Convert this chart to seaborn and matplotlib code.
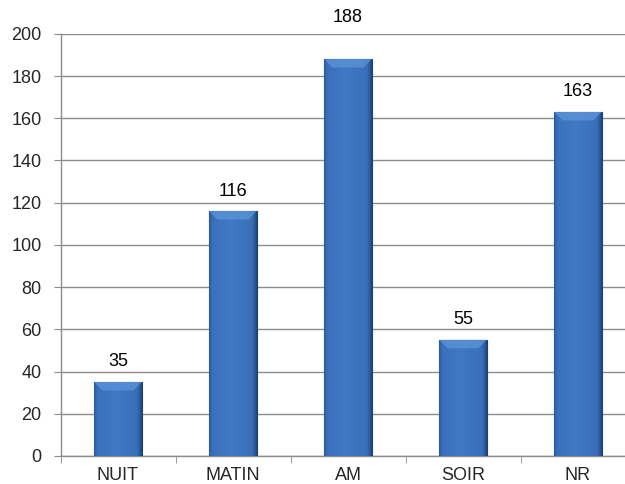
import numpy as np
import pandas as pd
import matplotlib
matplotlib.use("Agg")
import matplotlib.pyplot as plt
import seaborn as sns
from matplotlib.colors import LinearSegmentedColormap
from matplotlib.patches import Polygon

categories = ["NUIT", "MATIN", "AM", "SOIR", "NR"]
values = [35, 116, 188, 55, 163]
y_ticks = [0, 20, 40, 60, 80, 100, 120, 140, 160, 180, 200]

# distance (points) from bar top to the centre of each value label
label_offsets = [14.5, 14.5, 30, 14.5, 14.5]

df = pd.DataFrame({"periode": categories, "nombre": values})

sns.set_style("white")
plt.rcParams["font.family"] = ["Liberation Sans", "DejaVu Sans"]

fig = plt.figure(figsize=(6.25, 4.84), dpi=100)
ax = fig.add_axes([0.0968, 0.058, 0.92, 0.872])

sns.barplot(data=df, x="periode", y="nombre", color="#3c73bf", width=0.41,
            saturation=1, ax=ax, zorder=3)

ax.set_xlim(-0.5, len(categories) - 0.5)
ax.set_ylim(0, 200)

# horizontal shading on each bar: thin dark edges, nearly flat middle
cmap = LinearSegmentedColormap.from_list(
    "bar", [(0.0, "#2b5a9a"), (0.07, "#3a71bc"), (0.45, "#4079c5"),
            (0.9, "#396fb8"), (1.0, "#1f4680")])
grad = np.linspace(0, 1, 256).reshape(1, -1)
bev_h = 4.0     # bevel height, data units
bev_w = 0.07    # bevel inset, data units
for patch, off in zip(ax.patches, label_offsets):
    x0, y0 = patch.get_x(), patch.get_y()
    w, h = patch.get_width(), patch.get_height()
    im = ax.imshow(grad, cmap=cmap, aspect="auto",
                   extent=[x0, x0 + w, y0, y0 + h], zorder=4)
    im.set_clip_path(patch)
    patch.set_edgecolor("#1d3f70")
    patch.set_linewidth(0.8)
    top = y0 + h
    bevel = Polygon([[x0, top], [x0 + w, top], [x0 + w - bev_w, top - bev_h],
                     [x0 + bev_w, top - bev_h]], closed=True,
                    facecolor="#5f96da", edgecolor="none", alpha=0.7, zorder=5)
    ax.add_patch(bevel)
    ax.annotate(f"{int(round(h))}", xy=(x0 + w / 2, top), xytext=(0, off),
                textcoords="offset points", ha="center", va="center",
                fontsize=13, color="black", zorder=6, annotation_clip=False)

ax.set_yticks(y_ticks)
ax.yaxis.grid(True, color="#8c8c8c", linewidth=1.0, zorder=0)
ax.set_axisbelow(True)
ax.set_xlabel("")
ax.set_ylabel("")

for s in ["top", "right"]:
    ax.spines[s].set_visible(False)
for s in ["left", "bottom"]:
    ax.spines[s].set_color("#8c8c8c")
    ax.spines[s].set_linewidth(1.0)

ax.tick_params(axis="y", which="major", length=5, color="#8c8c8c",
               labelsize=13, pad=8.5, direction="out", left=True)
ax.tick_params(axis="x", which="major", length=0, labelsize=13, pad=8)
ax.set_xticks(range(len(categories)))
ax.set_xticklabels(categories)
ax.set_xticks(np.arange(-0.5, len(categories)), minor=True)
ax.tick_params(axis="x", which="minor", length=5, color="#8c8c8c",
               direction="out", bottom=True)

fig.savefig("out.png", dpi=100, facecolor="white")
